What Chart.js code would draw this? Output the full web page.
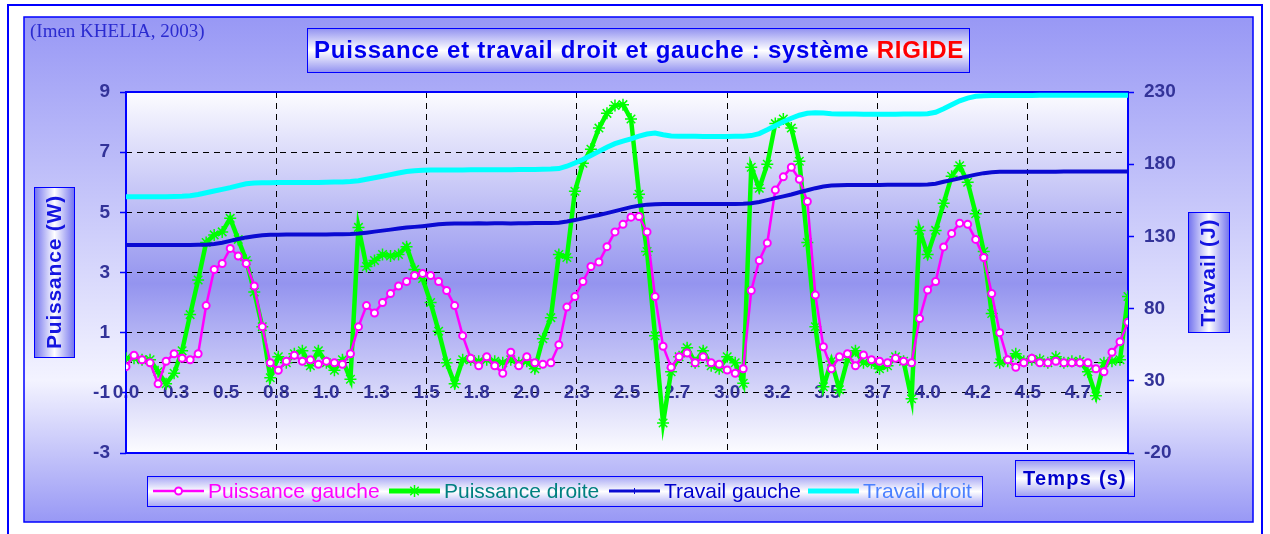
<!DOCTYPE html>
<html lang="fr">
<head>
<meta charset="utf-8">
<title>Puissance et travail droit et gauche : système RIGIDE</title>
<script src="https://cdn.jsdelivr.net/npm/chart.js@4.4.1/dist/chart.umd.min.js"></script>
<style>
  html, body { margin: 0; padding: 0; background: #ffffff; }
  canvas { display: block; }
</style>
</head>
<body>
<canvas id="graphique" width="1270" height="534"></canvas>
<script>
// Instants de mesure (s)
const temps = [
  0.00,0.04,0.08,0.12,0.16,0.20,0.24,0.28,0.32,0.36,
  0.40,0.44,0.48,0.52,0.56,0.60,0.64,0.68,0.72,0.76,
  0.80,0.84,0.88,0.92,0.96,1.00,1.04,1.08,1.12,1.16,
  1.20,1.24,1.28,1.32,1.36,1.40,1.44,1.48,1.52,1.56,
  1.60,1.64,1.68,1.72,1.76,1.80,1.84,1.88,1.92,1.96,
  2.00,2.04,2.08,2.12,2.16,2.20,2.24,2.28,2.32,2.36,
  2.40,2.44,2.48,2.52,2.56,2.60,2.64,2.68,2.72,2.76,
  2.80,2.84,2.88,2.92,2.96,3.00,3.04,3.08,3.12,3.16,
  3.20,3.24,3.28,3.32,3.36,3.40,3.44,3.48,3.52,3.56,
  3.60,3.64,3.68,3.72,3.76,3.80,3.84,3.88,3.92,3.96,
  4.00,4.04,4.08,4.12,4.16,4.20,4.24,4.28,4.32,4.36,
  4.40,4.44,4.48,4.52,4.56,4.60,4.64,4.68,4.72,4.76,
  4.80,4.84,4.88,4.92,4.96,5.00
];

// Puissance côté gauche (W)
const puissanceGauche = [
  -0.13,0.25,0.10,0.00,-0.70,0.05,0.30,0.15,0.10,0.30,
  1.90,3.10,3.30,3.80,3.55,3.30,2.55,1.20,0.00,-0.25,
  0.05,0.25,0.05,0.10,-0.05,0.05,0.00,-0.05,0.30,1.20,
  1.90,1.65,2.00,2.30,2.55,2.70,2.90,2.97,2.90,2.70,
  2.40,1.90,0.90,0.15,-0.10,0.20,-0.10,-0.35,0.35,-0.10,
  0.20,0.00,-0.05,0.00,0.60,1.85,2.20,2.70,3.20,3.35,
  3.86,4.35,4.60,4.84,4.86,4.35,2.20,0.55,-0.15,0.20,
  0.32,0.00,0.20,0.00,-0.05,-0.24,-0.35,-0.20,2.40,3.40,
  3.98,5.74,6.18,6.50,6.10,5.36,2.25,0.53,-0.20,0.20,
  0.30,-0.10,0.26,0.10,0.05,0.00,0.15,0.05,0.00,1.47,
  2.42,2.70,3.85,4.30,4.64,4.60,4.10,3.50,2.30,1.00,
  0.10,-0.15,0.00,0.15,0.00,0.00,0.05,0.00,0.00,0.00,
  0.00,-0.20,-0.30,0.35,0.70,1.35
];

// Puissance côté droit (W)
const puissanceDroite = [
  0.15,0.15,0.10,0.10,-0.30,-0.70,-0.35,0.40,1.60,2.75,
  4.00,4.25,4.35,4.80,4.10,3.40,2.35,1.20,-0.50,0.20,
  0.00,0.30,0.40,-0.10,0.40,0.00,-0.25,0.10,-0.55,4.50,
  3.20,3.40,3.60,3.55,3.60,3.86,3.10,2.80,2.00,1.05,
  0.00,-0.70,0.10,0.10,0.05,0.10,0.05,0.00,0.10,0.00,
  0.05,-0.20,0.80,1.50,3.60,3.50,5.70,6.63,7.10,7.80,
  8.29,8.55,8.58,8.10,5.60,3.70,0.90,-2.00,-0.30,0.20,
  0.50,0.00,0.40,-0.10,-0.20,0.20,0.00,-0.68,6.50,5.80,
  6.60,7.95,8.10,7.80,6.70,4.00,1.20,-0.80,0.05,-0.90,
  0.10,0.40,0.00,0.00,-0.20,-0.10,0.20,0.05,-1.20,4.40,
  3.60,4.40,5.30,6.20,6.55,6.00,4.95,3.70,1.64,0.00,
  0.05,0.30,0.05,0.10,0.10,0.00,0.20,0.00,0.05,0.05,
  -0.30,-1.10,0.00,0.05,0.10,2.20
];

// Travail cumulé côté gauche (J)
const travailGauche = [
  124.0,124.0,124.0,124.0,124.0,124.0,124.1,124.1,124.1,124.2,
  124.3,124.7,125.6,126.9,128.2,129.3,130.1,130.8,131.1,131.2,
  131.3,131.3,131.3,131.4,131.4,131.4,131.5,131.5,131.6,132.0,
  132.6,133.3,134.0,134.7,135.4,136.1,136.6,137.1,137.7,138.4,
  138.8,139.0,139.0,139.0,139.1,139.0,139.1,139.1,139.0,139.1,
  139.1,139.2,139.2,139.3,139.5,140.3,141.3,142.5,143.7,144.8,
  146.1,147.5,148.9,150.3,151.3,152.0,152.3,152.4,152.4,152.4,
  152.4,152.4,152.4,152.4,152.4,152.4,152.5,152.6,152.9,153.8,
  155.1,156.5,157.7,159.0,160.6,162.0,163.4,164.5,165.2,165.5,
  165.6,165.6,165.6,165.6,165.6,165.7,165.7,165.7,165.7,165.8,
  166.0,166.5,167.8,169.0,170.3,171.6,172.8,173.8,174.5,174.7,
  174.8,174.8,174.8,174.8,174.8,174.8,174.8,174.9,174.9,174.9,
  174.9,174.9,174.9,174.9,174.9,174.9
];

// Travail cumulé côté droit (J)
const travailDroit = [
  157.5,157.5,157.5,157.5,157.5,157.5,157.6,157.8,158.2,159.0,
  160.2,161.4,162.6,163.8,165.2,166.4,167.0,167.2,167.2,167.3,
  167.3,167.3,167.4,167.4,167.4,167.5,167.6,167.7,168.0,168.6,
  169.6,170.6,171.7,172.8,173.9,174.9,175.5,175.8,175.9,176.0,
  176.0,176.0,176.0,176.1,176.1,176.1,176.2,176.2,176.2,176.3,
  176.3,176.4,176.5,176.6,177.0,178.6,180.8,183.3,186.0,188.9,
  191.8,194.2,196.0,197.6,199.4,200.9,201.6,200.4,199.6,199.4,
  199.3,199.3,199.2,199.2,199.2,199.2,199.3,199.4,199.8,201.2,
  203.8,206.6,209.4,211.8,213.9,215.3,215.7,215.4,215.0,214.8,
  214.7,214.7,214.6,214.6,214.6,214.6,214.6,214.7,214.7,214.8,
  215.0,216.0,218.4,221.2,223.9,225.8,227.0,227.4,227.5,227.5,
  227.6,227.6,227.6,227.6,227.7,227.7,227.7,227.7,227.7,227.8,
  227.8,227.8,227.8,227.8,227.8,227.8
];

// Étiquettes de l'axe des temps (une toutes les 0,25 s)
const etiquettesTemps = ['0.0','0.3','0.5','0.8','1.0','1.3','1.5','1.8','2.0','2.3',
                         '2.5','2.7','3.0','3.2','3.5','3.7','4.0','4.2','4.5','4.7',''];
const pasEtiquettes = 0.25;
const graduationsPuissance = [-3, -1, 0, 1, 3, 5, 7, 9];
const graduationsTravail = [-20, 30, 80, 130, 180, 230];

const POLICE = "Arial, 'Liberation Sans', sans-serif";
const SERIF = "'Times New Roman', 'Liberation Serif', serif";
const BLEU_GRAD = '#333399';

const enPoints = valeurs => valeurs.map((v, i) => ({ x: temps[i], y: v }));

// Rectangle à dégradé (bords bleutés, centre blanc) bordé de bleu
function boite(ctx, x, y, w, h, horizontal, bord) {
  const g = horizontal ? ctx.createLinearGradient(x, 0, x + w, 0)
                       : ctx.createLinearGradient(0, y, 0, y + h);
  g.addColorStop(0, bord);
  g.addColorStop(0.5, '#ffffff');
  g.addColorStop(1, bord);
  ctx.fillStyle = g;
  ctx.fillRect(x, y, w, h);
  ctx.strokeStyle = '#0000ff';
  ctx.lineWidth = 1;
  ctx.strokeRect(x + 0.5, y + 0.5, w - 1, h - 1);
}

// Texte centré, espacé pour occuper une largeur donnée
function texteAjuste(ctx, txt, cx, cy, largeur) {
  ctx.letterSpacing = '0px';
  const w0 = ctx.measureText(txt).width;
  const esp = Math.max(0, (largeur - w0) / txt.length);
  ctx.letterSpacing = esp + 'px';
  const w = ctx.measureText(txt).width;
  ctx.textAlign = 'left';
  ctx.textBaseline = 'middle';
  ctx.fillText(txt, cx - w / 2, cy);
  ctx.letterSpacing = '0px';
}

const habillage = {
  id: 'habillage',
  beforeDraw(chart) {
    const ctx = chart.ctx, a = chart.chartArea;
    ctx.save();
    ctx.fillStyle = '#ffffff';
    ctx.fillRect(0, 0, chart.width, chart.height);
    ctx.strokeStyle = '#0000ff';
    ctx.lineWidth = 2;
    ctx.strokeRect(8, 5, 1254, 560);

    const gFond = ctx.createLinearGradient(0, 17, 0, 522);
    gFond.addColorStop(0, '#9898f5');
    gFond.addColorStop(0.72, '#f3f3ff');
    gFond.addColorStop(1, '#9898f5');
    ctx.fillStyle = gFond;
    ctx.fillRect(24, 17, 1229, 505);
    ctx.lineWidth = 1.5;
    ctx.strokeRect(24, 17, 1229, 505);

    const gTrace = ctx.createLinearGradient(0, a.top, 0, a.bottom);
    gTrace.addColorStop(0, '#fcfcff');
    gTrace.addColorStop(0.53, '#9494ef');
    gTrace.addColorStop(1, '#fcfcff');
    ctx.fillStyle = gTrace;
    ctx.fillRect(a.left, a.top, a.right - a.left, a.bottom - a.top);
    ctx.restore();
  },
  beforeDatasetsDraw(chart) {
    const ctx = chart.ctx, a = chart.chartArea;
    ctx.save();
    ctx.strokeStyle = '#0000ff';
    ctx.lineWidth = 2;
    ctx.strokeRect(a.left, a.top, a.right - a.left, a.bottom - a.top);
    ctx.restore();
  },
  afterDraw(chart) {
    const ctx = chart.ctx;
    ctx.save();

    // Source
    ctx.font = '19px ' + SERIF;
    ctx.fillStyle = '#2b2bd0';
    ctx.textAlign = 'left';
    ctx.textBaseline = 'middle';
    ctx.fillText('(Imen KHELIA, 2003)', 30, 32);

    // Titre
    boite(ctx, 307, 28, 663, 45, false, '#8f8ff0');
    ctx.font = 'bold 24px ' + POLICE;
    const t1 = 'Puissance et travail droit et gauche : système ';
    const t2 = 'RIGIDE';
    ctx.letterSpacing = '0px';
    const w0 = ctx.measureText(t1 + t2).width;
    const esp = Math.max(0, (650 - w0) / (t1 + t2).length);
    ctx.letterSpacing = esp + 'px';
    const w1 = ctx.measureText(t1).width;
    const wt = ctx.measureText(t1 + t2).width;
    const x0 = 639 - wt / 2;
    ctx.textAlign = 'left';
    ctx.textBaseline = 'middle';
    ctx.fillStyle = '#0000ee';
    ctx.fillText(t1, x0, 51);
    ctx.fillStyle = '#ff0000';
    ctx.fillText(t2, x0 + w1, 51);
    ctx.letterSpacing = '0px';

    // Titres des axes
    boite(ctx, 34, 187, 41, 171, true, '#6f6fee');
    ctx.save();
    ctx.translate(55, 272);
    ctx.rotate(-Math.PI / 2);
    ctx.font = 'bold 21px ' + POLICE;
    ctx.fillStyle = '#1515e0';
    texteAjuste(ctx, 'Puissance (W)', 0, 0, 154);
    ctx.restore();

    boite(ctx, 1188, 212, 42, 121, true, '#6f6fee');
    ctx.save();
    ctx.translate(1209.5, 272.5);
    ctx.rotate(-Math.PI / 2);
    ctx.font = 'bold 21px ' + POLICE;
    ctx.fillStyle = '#1515e0';
    texteAjuste(ctx, 'Travail (J)', 0, 0, 108);
    ctx.restore();

    boite(ctx, 1015, 460, 120, 37, false, '#9a9af2');
    ctx.font = 'bold 20px ' + POLICE;
    ctx.fillStyle = '#0000cc';
    texteAjuste(ctx, 'Temps (s)', 1075, 479, 104);

    // Légende
    boite(ctx, 147, 476, 836, 31, false, '#a4a4f4');
    const yL = 491;
    const entrees = [
      { ds: 0, x: 153, trait: 2.5, texte: '#ff00ff' },
      { ds: 1, x: 389, trait: 5, texte: '#008080' },
      { ds: 2, x: 609, trait: 3, texte: '#0000cc' },
      { ds: 3, x: 808, trait: 5, texte: '#4a80ff' }
    ];
    entrees.forEach(e => {
      const ds = chart.data.datasets[e.ds];
      ctx.strokeStyle = ds.borderColor;
      ctx.lineWidth = e.trait;
      ctx.beginPath();
      ctx.moveTo(e.x, yL);
      ctx.lineTo(e.x + 51, yL);
      ctx.stroke();
      const cx = e.x + 25.5;
      if (ds.pointRadius > 0) {
        ctx.fillStyle = ds.pointBackgroundColor;
        ctx.strokeStyle = ds.pointBorderColor;
        ctx.lineWidth = ds.pointBorderWidth;
        Chart.helpers.drawPoint(ctx, {
          pointStyle: ds.pointStyle, radius: ds.pointRadius, rotation: 0,
          borderWidth: ds.pointBorderWidth
        }, cx, yL);
      } else if (e.ds === 2) {
        ctx.lineWidth = 1;
        ctx.beginPath();
        ctx.moveTo(cx, yL - 3);
        ctx.lineTo(cx, yL + 3);
        ctx.stroke();
      }
      ctx.font = '21px ' + POLICE;
      ctx.fillStyle = e.texte;
      ctx.textAlign = 'left';
      ctx.textBaseline = 'middle';
      ctx.fillText(ds.label, e.x + 55, yL + 1);
    });

    ctx.restore();
  }
};

new Chart(document.getElementById('graphique'), {
  type: 'line',
  data: {
    datasets: [
      {
        label: 'Puissance gauche',
        data: enPoints(puissanceGauche),
        yAxisID: 'y',
        borderColor: '#ff00ff',
        borderWidth: 2.5,
        pointStyle: 'circle',
        pointRadius: 3.5,
        pointBorderWidth: 2,
        pointBorderColor: '#ff00ff',
        pointBackgroundColor: '#ffffff',
        order: 2
      },
      {
        label: 'Puissance droite',
        data: enPoints(puissanceDroite),
        yAxisID: 'y',
        borderColor: '#00ff00',
        borderWidth: 4.5,
        pointStyle: 'star',
        pointRadius: 6,
        pointBorderWidth: 1.5,
        pointBorderColor: '#00ff00',
        pointBackgroundColor: '#00ff00',
        order: 3
      },
      {
        label: 'Travail gauche',
        data: enPoints(travailGauche),
        yAxisID: 'y2',
        borderColor: '#0a0ad2',
        borderWidth: 4,
        pointRadius: 0,
        order: 1
      },
      {
        label: 'Travail droit',
        data: enPoints(travailDroit),
        yAxisID: 'y2',
        borderColor: '#00ffff',
        borderWidth: 5,
        pointRadius: 0,
        order: 0
      }
    ]
  },
  options: {
    responsive: false,
    animation: false,
    events: [],
    devicePixelRatio: 1,
    layout: { padding: { left: 0, right: 0, top: 92, bottom: 81 } },
    elements: { line: { tension: 0 } },
    plugins: { legend: { display: false }, tooltip: { enabled: false }, title: { display: false } },
    scales: {
      x: {
        type: 'linear',
        position: { y: -1 },
        min: 0,
        max: 5,
        afterBuildTicks: s => { s.ticks = etiquettesTemps.map((_, i) => ({ value: i * pasEtiquettes })); },
        ticks: {
          autoSkip: false,
          maxRotation: 0,
          minRotation: 0,
          padding: -11,
          color: BLEU_GRAD,
          font: { family: POLICE, size: 19, weight: 'bold' },
          callback: (v, i) => etiquettesTemps[i]
        },
        grid: {
          drawTicks: false,
          lineWidth: 1,
          color: c => (c.index > 0 && c.index % 3 === 0) ? '#000000' : 'rgba(0,0,0,0)'
        },
        border: { display: false, dash: [6, 5] }
      },
      y: {
        type: 'linear',
        position: 'left',
        min: -3,
        max: 9,
        afterBuildTicks: s => { s.ticks = graduationsPuissance.map(v => ({ value: v })); },
        afterFit: s => { s.width = 126; },
        ticks: {
          padding: 10,
          color: BLEU_GRAD,
          font: { family: POLICE, size: 19, weight: 'bold' },
          callback: v => (v === 0 ? '' : String(v))
        },
        grid: {
          lineWidth: 1,
          tickLength: 6,
          tickWidth: 1.5,
          tickColor: c => (c.tick && c.tick.value === 0) ? 'rgba(0,0,0,0)' : '#0000ff',
          color: c => (c.tick && (c.tick.value === 9 || c.tick.value === -3)) ? 'rgba(0,0,0,0)' : '#000000'
        },
        border: { display: false, dash: [6, 5] }
      },
      y2: {
        type: 'linear',
        position: 'right',
        min: -20,
        max: 230,
        afterBuildTicks: s => { s.ticks = graduationsTravail.map(v => ({ value: v })); },
        afterFit: s => { s.width = 142; },
        ticks: {
          padding: 10,
          color: BLEU_GRAD,
          font: { family: POLICE, size: 19, weight: 'bold' }
        },
        grid: {
          drawOnChartArea: false,
          tickLength: 6,
          tickWidth: 1.5,
          tickColor: '#0000ff'
        },
        border: { display: false }
      }
    }
  },
  plugins: [habillage]
});
</script>
</body>
</html>
